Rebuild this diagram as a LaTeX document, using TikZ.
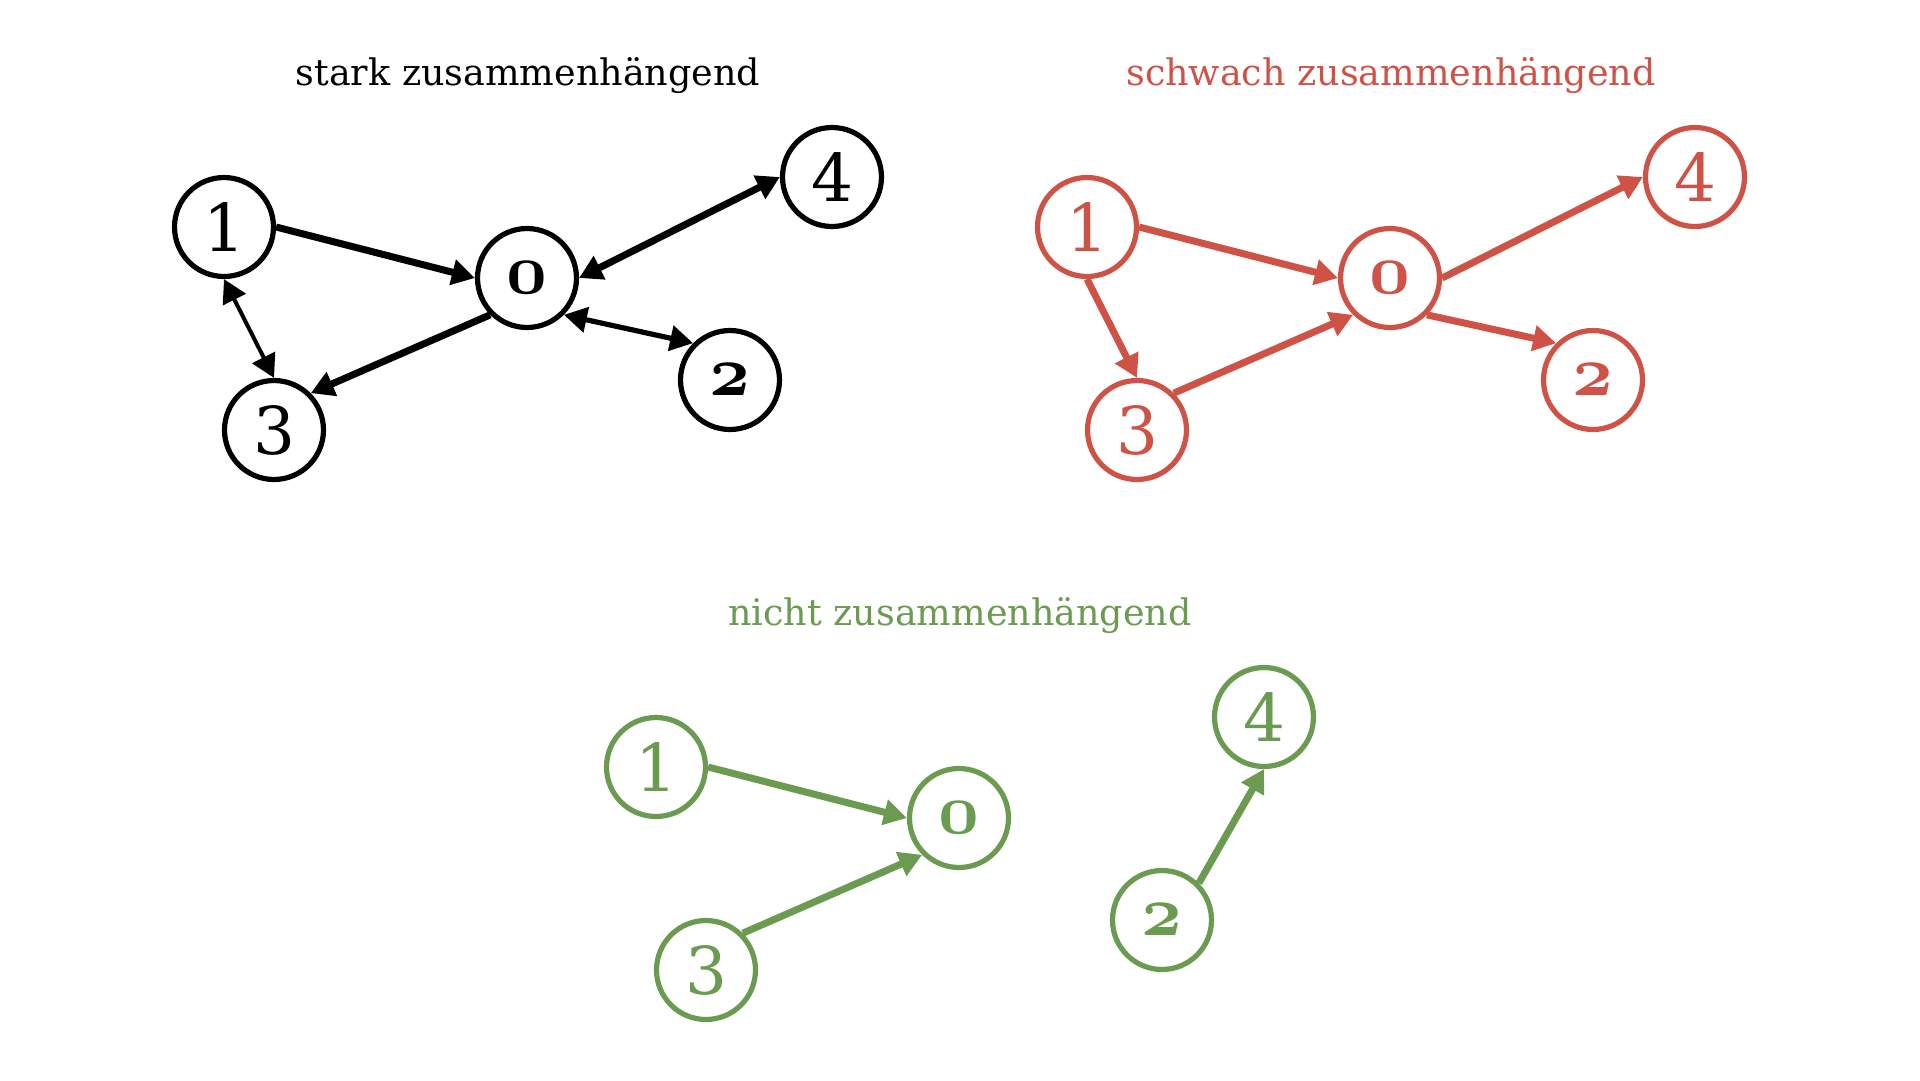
\documentclass[tikz,border=0pt]{standalone}
\usepackage{graphicx}
\usepackage{fontspec}
\setmainfont{DejaVu Serif}
\usetikzlibrary{arrows.meta}
\definecolor{rd}{HTML}{CF5246}
\definecolor{gn}{HTML}{6A9B50}
\newcommand{\osn}[1]{\scalebox{7.1}{\fontsize{10}{10}\usefont{OML}{cmm}{b}{it}#1}}
\tikzset{
  vtx/.style={circle, draw, line width=5.2pt, minimum size=99pt, inner sep=0pt,
    font=\fontsize{66}{66}\selectfont},
  ttl/.style={anchor=base, font=\fontsize{36.5}{40}\selectfont},
  tip/.tip={Triangle[length=23pt,width=25pt]},
  arr/.style={-tip, line width=7pt},
  biarr/.style={tip-tip, line width=#1},
}
\begin{document}
\begin{tikzpicture}[x=1pt,y=-1pt]
\useasboundingbox (0,0) rectangle (1920,1080);
% strongly connected
\node[ttl] (bt) at (528,85) {stark zusammenhängend};
\node[vtx] (b1) at (224,227) {1};
\node[vtx] (b0) at (527,278) {\osn{0}};
\node[vtx] (b4) at (832,177) {4};
\node[vtx] (b2) at (730,380) {\osn{2}};
\node[vtx] (b3) at (274,430) {3};
\draw[arr] (b1.east) -- (b0.west);
\draw[arr] (b0.south west) -- (b3.north east);
\draw[biarr=7pt] (b0.east) -- (b4.west);
\draw[biarr=5.2pt] (b0.south east) -- (b2.north west);
\draw[biarr=4pt] (b1.south) -- (b3.north);
% weakly connected
\begin{scope}[rd, every node/.append style={text=rd}]
\node[ttl] (rt) at (1391,85) {schwach zusammenhängend};
\node[vtx] (r1) at (1087,227) {1};
\node[vtx] (r0) at (1390,278) {\osn{0}};
\node[vtx] (r4) at (1695,177) {4};
\node[vtx] (r2) at (1593,380) {\osn{2}};
\node[vtx] (r3) at (1137,430) {3};
\draw[arr] (r1.east) -- (r0.west);
\draw[arr] (r1.south) -- (r3.north);
\draw[arr] (r3.north east) -- (r0.south west);
\draw[arr] (r0.east) -- (r4.west);
\draw[arr] (r0.south east) -- (r2.north west);
\end{scope}
% not connected
\begin{scope}[gn, every node/.append style={text=gn}]
\node[ttl] (gt) at (960,625) {nicht zusammenhängend};
\node[vtx] (g1) at (656,767) {1};
\node[vtx] (g0) at (959,818) {\osn{0}};
\node[vtx] (g4) at (1264,717) {4};
\node[vtx] (g2) at (1162,920) {\osn{2}};
\node[vtx] (g3) at (706,970) {3};
\draw[arr] (g1.east) -- (g0.west);
\draw[arr] (g3.north east) -- (g0.south west);
\draw[arr] (g2.north east) -- (g4.south);
\end{scope}
\end{tikzpicture}
\end{document}
